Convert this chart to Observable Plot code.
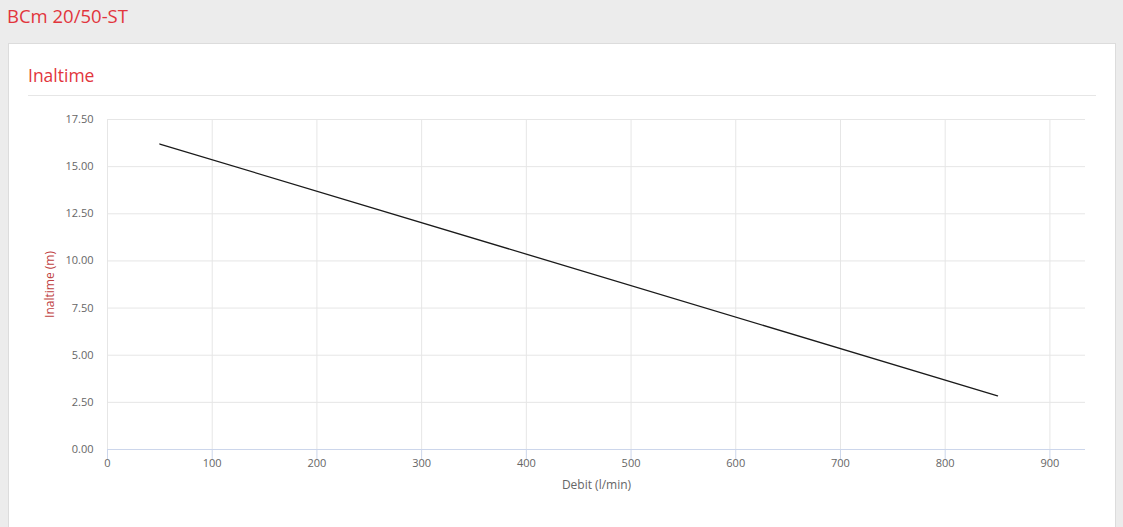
<!DOCTYPE html>
<html>
<head>
<meta charset="utf-8">
<script src="https://cdn.jsdelivr.net/npm/d3@7"></script>
<script src="https://cdn.jsdelivr.net/npm/@observablehq/plot@0.6"></script>
<style>
  html, body { margin: 0; padding: 0; background: #ececec; width: 1123px; height: 527px; overflow: hidden; font-family: "Open Sans", sans-serif; }
  #title { position: absolute; left: 7px; top: 3px; font-size: 18.5px; color: #e2353c; }
  #card { position: absolute; left: 8px; top: 43px; width: 1106px; height: 520px; background: #fff; border: 1px solid #dcdcdc; }
  #sub { position: absolute; left: 28px; top: 63px; font-size: 17.5px; color: #e2353c; }
  #sep { position: absolute; left: 28px; top: 95px; width: 1068px; height: 1px; background: #e6e6e6; }
  #chart { position: absolute; left: 0; top: 100px; }
</style>
</head>
<body>
<div id="title">BCm 20/50-ST</div>
<div id="card"></div>
<div id="sub">Inaltime</div>
<div id="sep"></div>
<div id="chart"></div>
<script>
const debit = [50, 850];
const inaltime = [16.2, 2.85];
const xTicks = [0, 100, 200, 300, 400, 500, 600, 700, 800, 900];
const yTicks = [0, 2.5, 5, 7.5, 10, 12.5, 15, 17.5];
const xTitle = "Debit (l/min)";
const yTitle = "Inaltime (m)";

const data = debit.map((d, i) => ({x: d, y: inaltime[i]}));

const chart = Plot.plot({
  width: 1123,
  height: 400,
  marginLeft: 107,
  marginRight: 38,
  marginTop: 19,
  marginBottom: 51,
  style: {fontFamily: "Open Sans, sans-serif", fontSize: "11px", background: "transparent"},
  x: {domain: [0, 934]},
  y: {domain: [0, 17.5]},
  marks: [
    Plot.gridX(xTicks, {stroke: "#e6e6e6", strokeOpacity: 1}),
    Plot.gridY(yTicks, {stroke: "#e6e6e6", strokeOpacity: 1}),
    Plot.ruleY([0], {stroke: "#ccd6eb"}),
    Plot.axisX(xTicks, {tickSize: 10, tickPadding: 0, stroke: "#ccd6eb", fill: "#666", label: null}),
    Plot.axisY(yTicks, {tickSize: 0, tickPadding: 14, tickFormat: d3.format(".2f"), fill: "#666", label: null}),
    Plot.line(data, {x: "x", y: "y", stroke: "#1a1a1a", strokeWidth: 1.3}),
    Plot.text([xTitle], {frameAnchor: "bottom", dy: 39, fill: "#666", fontSize: 12}),
    Plot.text([yTitle], {frameAnchor: "left", dx: -57, rotate: -90, textAnchor: "middle", fill: "#c0413f", fontSize: 12})
  ]
});
document.getElementById("chart").appendChild(chart);
</script>
</body>
</html>
